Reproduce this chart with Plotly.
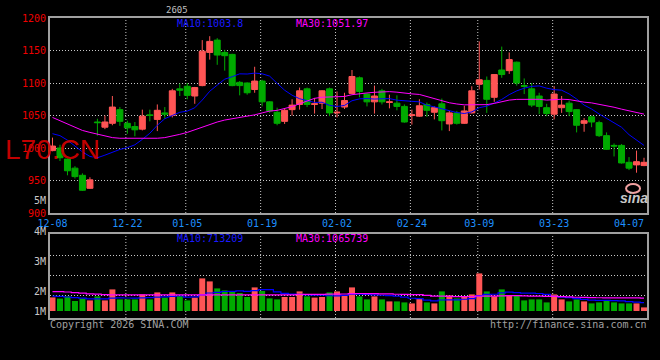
import plotly.graph_objects as go

# ---------------- data ----------------
dates = (
    ["2025-12-%02d" % d for d in [8, 9, 10, 11, 12, 15, 16, 17, 18, 19, 22, 23, 24, 25, 26, 29, 30, 31]]
    + ["2026-01-%02d" % d for d in [5, 6, 7, 8, 9, 12, 13, 14, 15, 16, 19, 20, 21, 22, 23, 26, 27, 28, 29, 30]]
    + ["2026-02-%02d" % d for d in [2, 3, 4, 5, 6, 9, 10, 11, 12, 13, 24, 25, 26, 27]]
    + ["2026-03-%02d" % d for d in [2, 3, 4, 5, 6, 9, 10, 11, 12, 13, 16, 17, 18, 19, 20, 23, 24, 25, 26, 27, 30, 31]]
    + ["2026-04-%02d" % d for d in [1, 2, 3, 7, 8, 9]]
)

open_ = [996, 1000, 983, 969, 958, 938, 1040, 1032, 1038, 1059,
         1038, 1033, 1029, 1051, 1044, 1054, 1050, 1091, 1095, 1080,
         1096, 1147, 1166, 1147, 1144, 1101, 1100, 1090, 1103, 1071,
         1055, 1041, 1059, 1067, 1091, 1067, 1069, 1091, 1054, 1063,
         1084, 1108, 1083, 1071, 1088, 1070, 1069, 1064, 1050, 1049,
         1067, 1055, 1068, 1037, 1054, 1038, 1054, 1098, 1104, 1078,
         1120, 1119, 1132, 1096, 1091, 1080, 1062, 1052, 1062, 1069,
         1059, 1038, 1048, 1039, 1019, 1004, 1004, 978, 974, 973]
high = [1016, 1005, 984, 972, 961, 955, 1045, 1050, 1080, 1063,
        1042, 1040, 1059, 1059, 1067, 1063, 1091, 1099, 1100, 1094,
        1166, 1172, 1169, 1151, 1145, 1103, 1101, 1125, 1105, 1072,
        1062, 1060, 1075, 1093, 1093, 1077, 1089, 1093, 1087, 1085,
        1120, 1110, 1084, 1096, 1091, 1082, 1081, 1067, 1059, 1075,
        1070, 1064, 1076, 1057, 1057, 1065, 1095, 1164, 1110, 1113,
        1156, 1147, 1133, 1107, 1100, 1085, 1068, 1095, 1080, 1073,
        1060, 1046, 1050, 1042, 1024, 1007, 1006, 986, 996, 985]
low = [995, 980, 958, 953, 934, 937, 1019, 1029, 1035, 1034,
       1022, 1018, 1027, 1041, 1026, 1045, 1047, 1080, 1075, 1068,
       1095, 1136, 1128, 1119, 1095, 1081, 1082, 1085, 1064, 1054,
       1035, 1037, 1050, 1059, 1063, 1053, 1060, 1049, 1047, 1060,
       1083, 1078, 1064, 1053, 1067, 1061, 1058, 1039, 1036, 1048,
       1048, 1044, 1027, 1026, 1036, 1037, 1053, 1090, 1054, 1071,
       1108, 1114, 1096, 1083, 1063, 1052, 1049, 1044, 1054, 1049,
       1024, 1025, 1032, 1017, 997, 987, 976, 966, 962, 972]
close = [1003, 985, 965, 956, 935, 951, 1039, 1040, 1063, 1041,
         1031, 1028, 1049, 1050, 1058, 1052, 1088, 1089, 1081, 1093,
         1149, 1164, 1143, 1142, 1096, 1096, 1085, 1103, 1071, 1057,
         1038, 1058, 1066, 1088, 1067, 1068, 1088, 1054, 1055, 1073,
         1110, 1087, 1071, 1080, 1071, 1071, 1064, 1040, 1051, 1065,
         1058, 1062, 1042, 1054, 1038, 1057, 1088, 1105, 1075, 1113,
         1113, 1136, 1100, 1095, 1066, 1064, 1053, 1083, 1066, 1056,
         1035, 1042, 1040, 1019, 998, 1003, 977, 969, 979, 978]

ma10 = [1022, 1019, 1012, 1003, 994, 987, 985, 989, 994, 997.8,
        1000.6, 1004.9, 1013.3, 1022.7, 1035.0, 1045.1, 1050.0, 1054.9, 1056.7, 1061.9,
        1073.7, 1087.3, 1096.7, 1105.9, 1109.7, 1114.1, 1113.8, 1115.2, 1114.2, 1110.6,
        1099.5, 1088.9, 1081.2, 1075.8, 1072.9, 1070.1, 1070.4, 1065.5, 1063.9, 1065.5,
        1072.7, 1075.6, 1076.1, 1075.3, 1075.7, 1076.0, 1073.6, 1072.2, 1071.8, 1071.0,
        1065.8, 1063.3, 1060.4, 1057.8, 1054.5, 1053.1, 1055.5, 1062.0, 1064.4, 1069.2,
        1074.7, 1082.1, 1087.9, 1092.0, 1094.8, 1095.5, 1092.0, 1089.8, 1088.9, 1083.2,
        1075.4, 1066.0, 1060.0, 1052.4, 1045.6, 1039.5, 1031.9, 1020.5, 1011.8, 1004.0]
ma30 = [1047, 1042, 1036, 1031, 1027, 1024, 1021, 1018, 1016, 1015,
        1015, 1015, 1015, 1014, 1015, 1016, 1018, 1021, 1024, 1028,
        1033, 1037, 1040, 1043, 1045, 1047, 1048, 1051, 1054, 1056.8,
        1057.9, 1060.4, 1063.7, 1068.1, 1072.5, 1076.4, 1078.1, 1078.5, 1078.3, 1079.3,
        1082.0, 1083.9, 1084.7, 1085.7, 1086.1, 1086.7, 1085.9, 1084.3, 1083.3, 1082.4,
        1079.3, 1075.9, 1072.6, 1069.6, 1067.7, 1066.4, 1066.5, 1066.6, 1066.7, 1068.6,
        1071.1, 1073.7, 1074.8, 1075.0, 1075.0, 1074.9, 1073.7, 1074.7, 1075.0, 1074.5,
        1072.0, 1070.5, 1069.4, 1067.4, 1065.0, 1062.7, 1059.8, 1057.4, 1055.0, 1052.1]

# volume in thousands
volume = [1170, 1066, 1256, 860, 1066, 912, 1256, 912, 1858, 998,
          998, 998, 1428, 998, 1600, 1152, 1600, 1290, 912, 1152,
          2804, 2546, 1944, 1772, 1686, 1548, 1204, 2030, 1720, 1084,
          998, 1204, 1204, 1686, 1256, 1152, 1204, 1600, 1686, 1376,
          2030, 1256, 998, 1256, 998, 826, 826, 740, 654, 1084,
          740, 654, 1686, 1342, 1084, 1290, 1428, 3234, 1686, 1256,
          1858, 1342, 1342, 912, 998, 998, 740, 1428, 998, 826,
          998, 826, 654, 740, 912, 740, 654, 654, 654, 310]
vol_ma10 = [1273, 1256, 1204, 1152, 1101, 1049, 1049, 1049, 1101, 1135,
            1118, 1111, 1128, 1142, 1195, 1219, 1254, 1292, 1197, 1213,
            1393, 1548, 1600, 1677, 1686, 1725, 1686, 1760, 1840, 1834,
            1653, 1519, 1445, 1436, 1393, 1354, 1354, 1311, 1307, 1336,
            1440, 1445, 1424, 1381, 1355, 1323, 1285, 1199, 1096, 1066,
            937, 877, 946, 955, 963, 1010, 1070, 1319, 1422, 1440,
            1551, 1620, 1586, 1543, 1534, 1505, 1436, 1256, 1187, 1144,
            1058, 1006, 937, 920, 912, 886, 877, 800, 765, 714]
vol_ma30 = [1668, 1668, 1634, 1582, 1531, 1479, 1445, 1410, 1393, 1393,
            1393, 1393, 1393, 1393, 1393, 1393, 1393, 1393, 1393, 1393,
            1393, 1393, 1393, 1393, 1393, 1393, 1393, 1393, 1393, 1393,
            1388, 1393, 1391, 1419, 1424, 1433, 1431, 1453, 1448, 1460,
            1495, 1503, 1490, 1498, 1477, 1467, 1441, 1422, 1414, 1412,
            1343, 1280, 1271, 1257, 1237, 1228, 1237, 1276, 1275, 1281,
            1309, 1314, 1319, 1293, 1285, 1280, 1264, 1257, 1235, 1216,
            1182, 1168, 1156, 1139, 1137, 1133, 1128, 1125, 1125, 1099]

tick_labels = ["12-08", "12-22", "01-05", "01-19", "02-02", "02-24", "03-09", "03-23", "04-07"]
grid_labels = ["12-22", "01-05", "01-19", "02-02", "02-24", "03-09", "03-23"]
price_ticks = [900, 950, 1000, 1050, 1100, 1150, 1200]

# ---------------- figure ----------------
RED = "#ff5555"
GREEN = "#00aa00"
GRID = "#c8c8c8"
BORDER = "#a0a0a0"
MONO = "DejaVu Sans Mono"

idx = list(range(len(dates)))
md = [d[5:] for d in dates]
tick_idx = [md.index(t) for t in tick_labels]
grid_idx = [md.index(t) for t in grid_labels]

fig = go.Figure()
fig.add_trace(go.Candlestick(
    x=idx, open=open_, high=high, low=low, close=close,
    increasing=dict(line=dict(color=RED, width=1), fillcolor=RED),
    decreasing=dict(line=dict(color=GREEN, width=1), fillcolor=GREEN),
    whiskerwidth=0, xaxis="x", yaxis="y", showlegend=False, hoverinfo="skip"))
fig.add_trace(go.Scatter(x=idx, y=ma10, mode="lines", line=dict(color="#0000ff", width=1),
                         xaxis="x", yaxis="y", showlegend=False, hoverinfo="skip"))
fig.add_trace(go.Scatter(x=idx, y=ma30, mode="lines", line=dict(color="#ff00ff", width=1),
                         xaxis="x", yaxis="y", showlegend=False, hoverinfo="skip"))

vcolors = [RED if c >= o else GREEN for o, c in zip(open_, close)]
fig.add_trace(go.Bar(x=idx, y=volume, marker=dict(color=vcolors, line=dict(width=0)),
                     xaxis="x2", yaxis="y2", showlegend=False, hoverinfo="skip"))
fig.add_trace(go.Scatter(x=idx, y=vol_ma10, mode="lines", line=dict(color="#0000ff", width=1.2, shape="hvh"),
                         xaxis="x2", yaxis="y2", showlegend=False, hoverinfo="skip"))
fig.add_trace(go.Scatter(x=idx, y=vol_ma30, mode="lines", line=dict(color="#ff00ff", width=1.2, shape="hvh"),
                         xaxis="x2", yaxis="y2", showlegend=False, hoverinfo="skip"))

xr = [-0.333, 79.4]
axis_common = dict(showline=True, linecolor=BORDER, linewidth=2, mirror=True, zeroline=False, ticks="")

fig.update_layout(
    width=660, height=360,
    margin=dict(l=50, r=11, t=18, b=42),
    paper_bgcolor="black", plot_bgcolor="black",
    font=dict(family=MONO, size=10, color="#c8c8c8"),
    boxgap=0.2, boxgroupgap=0, bargap=0.2,
    xaxis=dict(domain=[0, 1], anchor="y", range=xr, showgrid=False,
               tickmode="array", tickvals=tick_idx, ticktext=tick_labels,
               tickfont=dict(color="#1e90ff", size=10, family=MONO),
               rangeslider=dict(visible=False), **axis_common),
    yaxis=dict(domain=[0.35, 1], anchor="x", range=[900, 1200],
               tickmode="array", tickvals=price_ticks,
               tickfont=dict(color="#f00000", size=10, family=MONO),
               showgrid=True, gridcolor=GRID, gridwidth=1, griddash="1px,2px", **axis_common),
    xaxis2=dict(domain=[0, 1], anchor="y2", range=xr, matches="x", showgrid=False,
                showticklabels=False, **axis_common),
    yaxis2=dict(domain=[0, 0.28], anchor="x2", range=[-602, 6622],
                tickmode="array", tickvals=[1376, 3096, 4816], showticklabels=False,
                showgrid=True, gridcolor=GRID, gridwidth=1, griddash="1px,2px", **axis_common),
)

# vertical dotted grid lines in both panels
for gi in grid_idx:
    for xref, yref in (("x", "y domain"), ("x2", "y2 domain")):
        fig.add_shape(type="line", xref=xref, yref=yref, x0=gi - 0.2, x1=gi - 0.2, y0=0, y1=1,
                      line=dict(color=GRID, width=1, dash="1px,2px"), layer="below")

def px_y(py):
    return (318 - py) / 300.0

def px_x(px):
    return (px - 50) / 599.0

ann = []
def add(text, x, y, color, size=10, xanchor="left", family=MONO):
    ann.append(dict(text=text, x=x, y=y, xref="paper", yref="paper", showarrow=False,
                    xanchor=xanchor, yanchor="middle", font=dict(color=color, size=size, family=family)))

add("2605", px_x(164), px_y(10), "#c0c0c0", 9)
add("MA10:1003.8", px_x(175), px_y(23.5), "#1a1aff")
add("MA30:1051.97", px_x(295), px_y(23.5), "#ff00ff")
add("MA10:713209", px_x(175), px_y(238.5), "#1a1aff")
add("MA30:1065739", px_x(295), px_y(238.5), "#ff00ff")
add("5M", px_x(47.5), px_y(200), "#c8c8c8", 10, "right")
add("4M", px_x(47.5), px_y(231), "#c8c8c8", 10, "right")
add("3M", px_x(47.5), px_y(261), "#c8c8c8", 10, "right")
add("2M", px_x(47.5), px_y(291), "#c8c8c8", 10, "right")
add("1M", px_x(47.5), px_y(311), "#c8c8c8", 10, "right")
add("Copyright 2026 SINA.COM", px_x(48), px_y(324), "#a0a0a0")
add("http://finance.sina.com.cn", px_x(651), px_y(324), "#a0a0a0", 10, "right")
add("L70.CN", px_x(3), px_y(150), "rgba(215,0,0,0.92)", 28, "left", "Liberation Sans")
add("<b><i>sina</i></b>", px_x(636), px_y(198), "#c8c8c8", 14, "center", "Liberation Sans")
fig.update_layout(annotations=ann)

fig.add_shape(type="circle", xref="paper", yref="paper",
              x0=px_x(628), x1=px_x(642), y0=px_y(193), y1=px_y(184),
              line=dict(color="#f0a0a0", width=2), fillcolor="rgba(0,0,0,0)")

fig.write_html("out.html", config={"displayModeBar": False},
               post_script="document.body.style.margin='0';document.body.style.background='black';")
